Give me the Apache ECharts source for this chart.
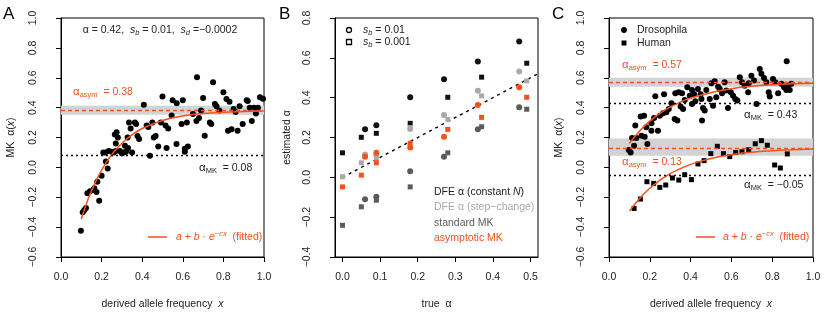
<!DOCTYPE html>
<html><head><meta charset="utf-8">
<script src="https://cdn.jsdelivr.net/npm/echarts@6/dist/echarts.min.js"></script>
<style>html,body{margin:0;padding:0;background:#fff}#c{width:830px;height:318px}</style>
</head><body><div id="c"></div>
<script>
// ---------- Panel A: simulated data ----------
const simPoints = [
 [0.098,-0.424],[0.107,-0.30],[0.115,-0.285],[0.123,-0.272],[0.13,-0.174],[0.143,-0.16],[0.16,-0.15],[0.164,-0.14],
 [0.175,-0.165],[0.188,-0.223],[0.179,-0.096],[0.20,-0.056],[0.221,0.04],[0.23,-0.007],
 [0.208,0.10],[0.218,0.10],[0.235,0.11],[0.25,0.105],[0.26,0.10],[0.27,0.11],[0.29,0.11],[0.30,0.095],[0.31,0.10],[0.32,0.105],[0.35,0.10],
 [0.274,0.235],[0.265,0.22],[0.28,0.20],[0.27,0.16],[0.315,0.145],[0.33,0.13],[0.328,0.20],[0.335,0.30],[0.343,0.26],
 [0.364,0.30],[0.37,0.29],[0.377,0.21],[0.385,0.19],[0.408,0.42],[0.422,0.28],[0.43,0.27],[0.438,0.078],[0.45,0.30],
 [0.457,0.20],[0.466,0.21],[0.479,0.14],[0.492,0.30],[0.50,0.474],[0.515,0.28],[0.52,0.13],[0.528,0.26],[0.545,0.347],
 [0.55,0.45],[0.57,0.43],[0.569,0.157],[0.594,0.29],[0.60,0.45],[0.61,0.125],[0.61,0.105],[0.625,0.14],[0.62,0.30],
 [0.65,0.358],[0.667,0.31],[0.68,0.33],[0.67,0.603],[0.69,0.38],[0.70,0.465],[0.708,0.212],[0.733,0.30],[0.74,0.29],
 [0.749,0.57],[0.758,0.425],[0.766,0.41],[0.78,0.38],[0.80,0.503],[0.815,0.458],[0.823,0.246],[0.83,0.44],[0.84,0.255],
 [0.85,0.39],[0.86,0.37],[0.87,0.246],[0.88,0.41],[0.895,0.29],[0.915,0.45],[0.92,0.445],[0.93,0.40],[0.94,0.31],
 [0.95,0.40],[0.96,0.36],[0.97,0.40],[0.98,0.47],[0.995,0.46]
];
const simFitX = [0.1,0.125,0.15,0.2,0.25,0.3,0.35,0.4,0.5,0.6,0.7,0.8,0.9,1.0];
const simFitY = [-0.346,-0.245,-0.158,-0.018,0.085,0.161,0.218,0.26,0.314,0.344,0.36,0.369,0.374,0.377];
const simAsym = 0.38, simAsymBand = [0.353,0.413], simMK = 0.08;

// ---------- Panel B: estimated vs true alpha ----------
const trueAlphaCirc = [0.06,0.09,0.18,0.27,0.36,0.47];
const trueAlphaSq   = [0.0,0.05,0.09,0.18,0.28,0.37,0.49];
const dfeConstCirc = [0.241,0.261,0.402,0.493,0.581,0.682];
const dfeConstSq   = [0.123,0.201,0.221,0.271,0.402,0.503,0.573];
const dfeStepCirc  = [0.115,0.108,0.243,0.313,0.435,0.531];
const dfeStepSq    = [0.003,0.073,0.095,0.25,0.291,0.409,0.484];
const stdMKCirc    = [-0.11,-0.098,0.031,0.103,0.241,0.352];
const stdMKSq      = [-0.241,-0.148,-0.115,-0.048,0.123,0.254,0.342];
const asymMKCirc   = [0.103,0.123,0.150,0.204,0.363,0.452];
const asymMKSq     = [-0.048,0.011,0.073,0.171,0.241,0.301,0.402];
const identityEnds = [0, 0.52];

// ---------- Panel C: Drosophila & Human ----------
const droPoints = [
 [0.097,0.116],[0.106,0.10],[0.123,0.145],[0.113,0.197],[0.134,0.197],[0.129,0.28],[0.155,0.34],[0.172,0.346],
 [0.159,0.212],[0.175,0.205],[0.188,0.156],[0.183,0.268],[0.208,0.295],[0.221,0.331],[0.208,0.246],[0.24,0.246],
 [0.227,0.476],[0.27,0.49],[0.249,0.346],[0.265,0.362],[0.281,0.369],[0.293,0.391],[0.306,0.429],[0.325,0.496],
 [0.342,0.503],[0.322,0.324],[0.335,0.313],[0.351,0.407],[0.363,0.391],[0.371,0.451],[0.384,0.536],[0.407,0.518],
 [0.396,0.48],[0.417,0.49],[0.407,0.424],[0.423,0.442],[0.436,0.525],[0.449,0.49],[0.461,0.398],[0.469,0.38],
 [0.456,0.313],[0.453,0.458],[0.477,0.518],[0.494,0.458],[0.502,0.563],[0.518,0.576],[0.51,0.413],[0.526,0.469],
 [0.543,0.525],[0.554,0.496],[0.567,0.57],[0.575,0.514],[0.583,0.398],[0.597,0.503],[0.608,0.48],[0.619,0.458],
 [0.629,0.447],[0.641,0.603],[0.652,0.57],[0.665,0.547],[0.685,0.563],[0.698,0.614],[0.711,0.581],[0.723,0.424],
 [0.739,0.659],[0.747,0.626],[0.76,0.599],[0.771,0.57],[0.783,0.503],[0.788,0.474],[0.804,0.592],[0.815,0.57],
 [0.829,0.496],[0.845,0.559],[0.858,0.536],[0.869,0.518],[0.877,0.547],[0.886,0.518],[0.894,0.559],[0.871,0.71],
 [0.682,0.503],[0.535,0.54],[0.358,0.496]
];
const humPoints = [
 [0.123,-0.275],[0.154,-0.212],[0.186,-0.096],[0.219,-0.107],[0.249,-0.134],[0.278,-0.118],[0.311,-0.071],
 [0.342,-0.085],[0.371,-0.049],[0.404,-0.082],[0.436,0.023],[0.466,0.045],[0.499,0.092],[0.531,0.141],[0.561,0.092],
 [0.592,0.072],[0.621,0.10],[0.652,0.105],[0.685,0.118],[0.717,0.158],[0.747,0.179],[0.776,0.148],[0.812,0.016],
 [0.84,-0.004],[0.874,0.09]
];
const fitCX = [0.1,0.15,0.2,0.25,0.3,0.35,0.4,0.5,0.6,0.7,0.8,0.9,1.0];
const droFitY = [0.16,0.244,0.31,0.362,0.404,0.437,0.464,0.50,0.527,0.543,0.553,0.559,0.563];
const humFitY = [-0.293,-0.208,-0.14,-0.086,-0.042,-0.008,0.02,0.06,0.085,0.102,0.112,0.118,0.123];
const droAsym = 0.57, droBand = [0.54,0.60], droMK = 0.43;
const humAsym = 0.13, humBand = [0.078,0.194], humMK = -0.05;

const xTicksA = [0,0.2,0.4,0.6,0.8,1.0];
const xTicksB = [0,0.1,0.2,0.3,0.4,0.5];

// ---------- styling ----------
const FONT = '"Liberation Sans", Arial, Helvetica, sans-serif';
const RED = '#f4511e', BLACK = '#111111', LGREY = '#a9a9a9', DGREY = '#5b5b5b', BAND = '#d3d3d3';
const fmt = v => v.toFixed(1).replace('-', '\u2212');
const zip = (xs, ys) => xs.map((x, i) => [x, ys[i]]);

const gridBase = {show: true, borderColor: '#000', borderWidth: 1, backgroundColor: 'transparent', containLabel: false};
function xAxisCfg(idx, min, max, name, ticks, nameRich) {
  return {
    gridIndex: idx, type: 'value', min, max,
    axisLine: {show: true, onZero: false, lineStyle: {color: '#000', width: 1}},
    axisTick: {show: true, length: 5, lineStyle: {color: '#000'}, customValues: ticks},
    axisLabel: {show: true, fontFamily: FONT, fontSize: 10.5, color: '#222', margin: 15, formatter: fmt, customValues: ticks},
    splitLine: {show: false},
    name, nameLocation: 'middle', nameGap: 42,
    nameTextStyle: {fontFamily: FONT, fontSize: 10.5, color: '#222', rich: nameRich}
  };
}
function yAxisCfg(idx, min, max, name, nameGap, nameRich) {
  return {
    gridIndex: idx, type: 'value', min, max, interval: 0.2,
    axisLine: {show: true, onZero: false, lineStyle: {color: '#000', width: 1}},
    axisTick: {show: true, length: 5, lineStyle: {color: '#000'}},
    axisLabel: {show: true, fontFamily: FONT, fontSize: 10.5, color: '#222', rotate: 90, margin: 22, formatter: fmt},
    splitLine: {show: false},
    name, nameLocation: 'middle', nameGap, nameRotate: 90,
    nameTextStyle: {fontFamily: FONT, fontSize: 10.5, color: '#222', rich: nameRich}
  };
}
const italicRich = {i: {fontStyle: 'italic', fontFamily: FONT, fontSize: 10.5, color: '#222'}};

function bandSeries(xi, band, lines) {
  return {
    type: 'line', xAxisIndex: xi, yAxisIndex: xi, data: [], silent: true, z: 1,
    markArea: {silent: true, itemStyle: {color: BAND}, data: band.map(b => [{yAxis: b[0]}, {yAxis: b[1]}])},
    markLine: {silent: true, symbol: 'none', label: {show: false}, animation: false,
      data: lines.map(l => ({yAxis: l[0], lineStyle: {color: l[1], type: l[2], width: 1.4}}))}
  };
}
function curve(xi, xs, ys) {
  return {type: 'line', xAxisIndex: xi, yAxisIndex: xi, data: zip(xs, ys), smooth: true, showSymbol: false,
    symbol: 'none', lineStyle: {color: RED, width: 1.5}, z: 4, silent: true};
}
function scat(xi, data, symbol, size, color, z) {
  return {type: 'scatter', xAxisIndex: xi, yAxisIndex: xi, data, symbol, symbolSize: size,
    itemStyle: {color, opacity: 1}, z: z || 3, silent: true};
}

// ---------- annotation texts ----------
const T = (x, y, text, fill, extra) => Object.assign({
  type: 'text', x, y, silent: true, z: 100,
  style: Object.assign({text, fill: fill || '#222', fontFamily: FONT, fontSize: 10.5, align: 'left', verticalAlign: 'middle',
    rich: {
      n: {fontSize: 10.5, lineHeight: 14, fontFamily: FONT},
      i: {fontSize: 10.5, lineHeight: 14, fontStyle: 'italic', fontFamily: FONT},
      g: {fontSize: 11.5, lineHeight: 14, fontFamily: FONT},
      sub: {fontSize: 7.5, lineHeight: 8, verticalAlign: 'bottom', fontFamily: FONT},
      subi: {fontSize: 7.5, lineHeight: 8, verticalAlign: 'bottom', fontStyle: 'italic', fontFamily: FONT},
      sup: {fontSize: 7.5, lineHeight: 8, verticalAlign: 'top', fontStyle: 'italic', fontFamily: FONT}
    }}, extra || {})
});
const graphics = [
  T(3, 14, 'A', '#000', {fontSize: 17}),
  T(279, 14, 'B', '#000', {fontSize: 17}),
  T(552, 14, 'C', '#000', {fontSize: 17}),
  // A
  T(160, 30, '{n|α = 0.42,  }{i|s}{subi|b}{n| = 0.01,  }{i|s}{subi|d}{n| =\u22120.0002}', '#222', {align: 'center'}),
  T(73, 92, '{g|α}{sub|asym}{n|  = 0.38}', RED),
  T(199, 168, '{g|α}{sub|MK}{n|  = 0.08}', '#222'),
  {type: 'line', silent: true, z: 100, shape: {x1: 148, y1: 237, x2: 167, y2: 237}, style: {stroke: RED, lineWidth: 1.5}},
  T(176, 237, '{i|a}{n| + }{i|b}{n| · }{i|e}{sup|\u2212cx}{n|  (fitted)}', RED),
  // B
  {type: 'circle', silent: true, z: 100, shape: {cx: 349, cy: 30, r: 2.5}, style: {fill: 'none', stroke: '#000', lineWidth: 1.3}},
  T(363, 30, '{i|s}{subi|b}{n| = 0.01}', '#222'),
  {type: 'rect', silent: true, z: 100, shape: {x: 346.5, y: 39.5, width: 5, height: 5}, style: {fill: 'none', stroke: '#000', lineWidth: 1.3}},
  T(363, 42, '{i|s}{subi|b}{n| = 0.001}', '#222'),
  T(434, 192, '{n|DFE α (constant }{i|N}{n|)}', '#222'),
  T(434, 207, '{n|DFE α (step\u2212change)}', LGREY),
  T(434, 223, '{n|standard MK}', DGREY),
  T(434, 238, '{n|asymptotic MK}', RED),
  // C
  {type: 'circle', silent: true, z: 100, shape: {cx: 624, cy: 30, r: 2.9}, style: {fill: '#000'}},
  T(637, 30, '{n|Drosophila}', '#222'),
  {type: 'rect', silent: true, z: 100, shape: {x: 621.5, y: 40.5, width: 5, height: 5}, style: {fill: '#000'}},
  T(637, 43, '{n|Human}', '#222'),
  T(622, 65, '{g|α}{sub|asym}{n|  = 0.57}', RED),
  T(744, 115, '{g|α}{sub|MK}{n|  = 0.43}', '#222'),
  T(622, 162, '{g|α}{sub|asym}{n|  = 0.13}', RED),
  T(744, 185, '{g|α}{sub|MK}{n|  = \u22120.05}', '#222'),
  {type: 'line', silent: true, z: 100, shape: {x1: 696, y1: 237, x2: 715, y2: 237}, style: {stroke: RED, lineWidth: 1.5}},
  T(723, 237, '{i|a}{n| + }{i|b}{n| · }{i|e}{sup|\u2212cx}{n|  (fitted)}', RED)
];

const option = {
  animation: false,
  backgroundColor: '#fff',
  grid: [
    Object.assign({left: 61, top: 18, width: 203, height: 239}, gridBase),
    Object.assign({left: 335, top: 18, width: 203, height: 239}, gridBase),
    Object.assign({left: 609, top: 18, width: 204, height: 239}, gridBase)
  ],
  xAxis: [
    xAxisCfg(0, 0, 1, 'derived allele frequency  {i|x}', xTicksA, italicRich),
    xAxisCfg(1, -0.02, 0.52, 'true  α', xTicksB, italicRich),
    xAxisCfg(2, 0, 1, 'derived allele frequency  {i|x}', xTicksA, italicRich)
  ],
  yAxis: [
    yAxisCfg(0, -0.6, 1.0, 'MK  α({i|x})', 44, italicRich),
    yAxisCfg(1, -0.4, 0.8, 'estimated α', 42, italicRich),
    yAxisCfg(2, -0.6, 1.0, 'MK  α({i|x})', 44, italicRich)
  ],
  series: [
    // A
    bandSeries(0, [simAsymBand], [[simAsym, RED, [4, 3]], [simMK, '#000', [2, 3]]]),
    scat(0, simPoints, 'circle', 6, '#000'),
    curve(0, simFitX, simFitY),
    // B
    {type: 'line', xAxisIndex: 1, yAxisIndex: 1, data: zip(identityEnds, identityEnds), showSymbol: false, symbol: 'none',
      lineStyle: {color: '#000', width: 1.4, type: [3, 4]}, z: 2, silent: true},
    scat(1, zip(trueAlphaCirc, dfeConstCirc), 'circle', 6, BLACK),
    scat(1, zip(trueAlphaSq, dfeConstSq), 'rect', 5, BLACK),
    scat(1, zip(trueAlphaCirc, dfeStepCirc), 'circle', 6, LGREY),
    scat(1, zip(trueAlphaSq, dfeStepSq), 'rect', 5, LGREY),
    scat(1, zip(trueAlphaCirc, stdMKCirc), 'circle', 6, DGREY),
    scat(1, zip(trueAlphaSq, stdMKSq), 'rect', 5, DGREY),
    scat(1, zip(trueAlphaCirc, asymMKCirc), 'circle', 6, RED),
    scat(1, zip(trueAlphaSq, asymMKSq), 'rect', 5, RED),
    // C
    bandSeries(2, [droBand, humBand], [[droAsym, RED, [4, 3]], [droMK, '#000', [2, 3]], [humAsym, RED, [4, 3]], [humMK, '#000', [2, 3]]]),
    scat(2, droPoints, 'circle', 6, '#000'),
    scat(2, humPoints, 'rect', 5, '#000'),
    curve(2, fitCX, droFitY),
    curve(2, fitCX, humFitY)
  ],
  graphic: graphics
};
const chart = echarts.init(document.getElementById('c'), null, {renderer: 'canvas'});
chart.setOption(option);
</script></body></html>
